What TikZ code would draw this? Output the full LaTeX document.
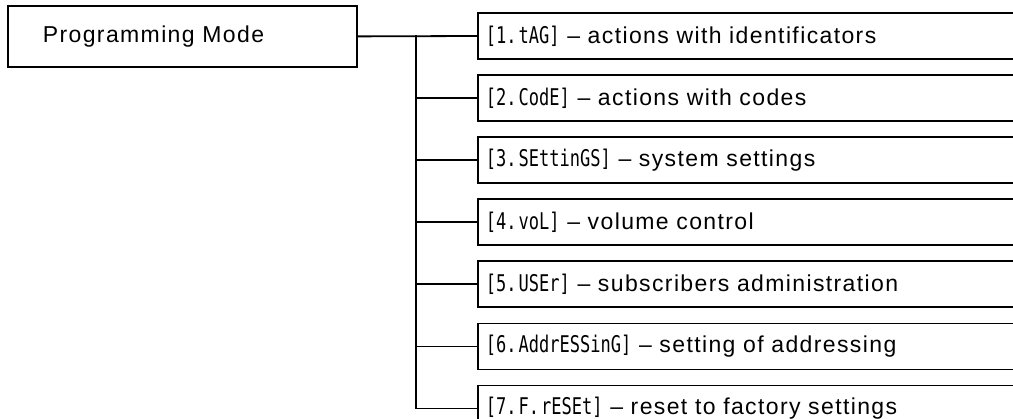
\documentclass[tikz,border=0pt]{standalone}
\usepackage{fontspec}
\setmainfont[LetterSpace=6]{Liberation Sans}
\newfontfamily\codefont[FakeStretch=0.74]{DejaVu Sans Mono}
\usepackage{tikz}
\usetikzlibrary{positioning}

\newcommand{\code}[2]{{\codefont [#1.\hspace{2pt}#2]}}

\begin{document}
\begin{tikzpicture}[
    x=1pt, y=1pt,
    font=\fontsize{23}{27}\selectfont,
    mainbox/.style={rectangle, draw, line width=1.8pt, minimum width=349pt, minimum height=61pt, inner xsep=35pt, text width=279pt, align=left},
    menubox/.style={rectangle, draw, line width=1.8pt, minimum width=560pt, minimum height=46pt, inner xsep=8pt, text width=544pt, align=left},
    link/.style={line width=1.8pt},
    node distance=14.3pt
]
    \useasboundingbox (0,0) rectangle (1013,-419);
    \clip (0,0) rectangle (1013,-419);

    % Nodes
    \node[mainbox, anchor=north west] (prog) at (7,-5) {Programming Mode};
    \node[menubox, anchor=west] (tag) at (477,-36) {\code{1}{tAG} -- actions with identificators};
    \node[menubox, below=of tag] (codes) {\code{2}{CodE} -- actions with codes};
    \node[menubox, below=of codes] (settings) {\code{3}{SEttinGS} -- system settings};
    \node[menubox, below=of settings] (vol) {\code{4}{voL} -- volume control};
    \node[menubox, below=of vol] (user) {\code{5}{USEr} -- subscribers administration};
    \node[menubox, below=of user] (addr) {\code{6}{AddrESSinG} -- setting of addressing};
    \node[menubox, below=of addr] (reset) {\code{7}{F.\hspace{2pt}rESEt} -- reset to factory settings};

    \coordinate (bus) at (416,-35.5);

    % Links
    \draw[link] (prog.east) -- (tag.west);
    \draw[link] (bus) |- (reset.west);
    \draw[link] (bus |- codes.west) -- (codes.west);
    \draw[link] (bus |- settings.west) -- (settings.west);
    \draw[link] (bus |- vol.west) -- (vol.west);
    \draw[link] (bus |- user.west) -- (user.west);
    \draw[link] (bus |- addr.west) -- (addr.west);
\end{tikzpicture}
\end{document}
